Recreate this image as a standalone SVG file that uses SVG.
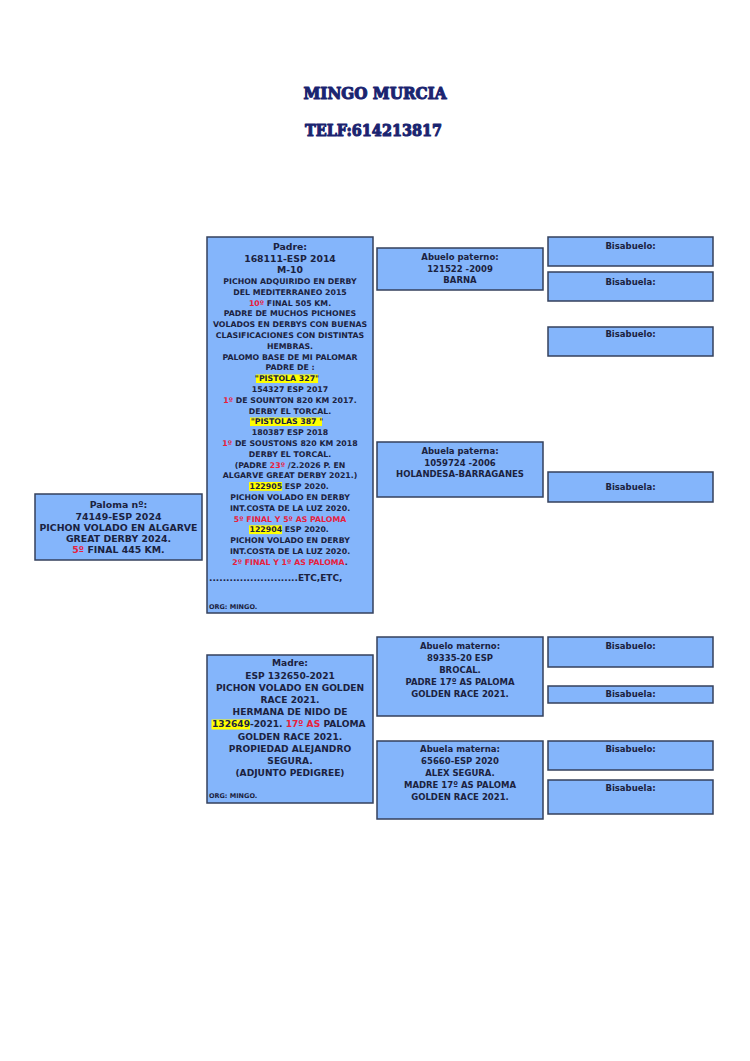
<svg xmlns="http://www.w3.org/2000/svg" width="750" height="1061" viewBox="0 0 750 1061">
<style>
.bg{fill:#ffffff}
.box{fill:#84b5fb;stroke:#34405c;stroke-width:1.5}
.t{font-family:"DejaVu Sans","Verdana",sans-serif;font-weight:bold;fill:#1b2240;text-anchor:middle}
.s{text-anchor:start}
.f78{font-size:7.8px}
.f85{font-size:8.5px}
.f91{font-size:9.1px}
.f93{font-size:9.3px}
.f94{font-size:9.4px}
.f65{font-size:6.5px}
.r{fill:#e8203c}
.hl{fill:#ffff00}
.title{font-family:"DejaVu Serif","Liberation Serif",serif;font-weight:bold;font-size:16.5px;fill:#1a2470;stroke:#1a2470;stroke-width:1.1;stroke-linejoin:round;text-anchor:middle}
</style>
<rect class="bg" x="0" y="0" width="750" height="1061"/>
<g id="title">
<text class="title" x="375" y="99" textLength="143" lengthAdjust="spacingAndGlyphs">MINGO MURCIA</text>
<text class="title" x="373.5" y="136" textLength="137" lengthAdjust="spacingAndGlyphs">TELF:614213817</text>
</g>
<g id="connectors"></g>
<g id="paloma">
<rect class="box" x="35" y="494" width="167" height="66"/>
<text class="t f94" x="118.5" y="508.4">Paloma nº:</text>
<text class="t f94" x="118.5" y="519.6">74149-ESP 2024</text>
<text class="t f94" x="118.5" y="530.9">PICHON VOLADO EN ALGARVE</text>
<text class="t f94" x="118.5" y="542.1">GREAT DERBY 2024.</text>
<text class="t f94" x="118.5" y="553.4"><tspan class="r">5º</tspan> FINAL 445 KM.</text>
</g>
<g id="padre">
<rect class="box" x="207" y="237" width="166" height="376"/>
<rect class="hl" x="256" y="374.5" width="62" height="8.5"/>
<rect class="hl" x="250" y="417.5" width="72" height="8.5"/>
<rect class="hl" x="249" y="482" width="33" height="8.8"/>
<rect class="hl" x="249" y="525.3" width="33" height="8.8"/>
<text class="t f93" x="290" y="249.5">Padre:</text>
<text class="t f93" x="290" y="261.5">168111-ESP 2014</text>
<text class="t f93" x="290" y="272.5">M-10</text>
<text class="t f78" x="290" y="284">PICHON ADQUIRIDO EN DERBY</text>
<text class="t f78" x="290" y="294.8">DEL MEDITERRANEO 2015</text>
<text class="t f78" x="290" y="305.6"><tspan class="r">10º</tspan> FINAL 505 KM.</text>
<text class="t f78" x="290" y="316.4">PADRE DE MUCHOS PICHONES</text>
<text class="t f78" x="290" y="327.2">VOLADOS EN DERBYS CON BUENAS</text>
<text class="t f78" x="290" y="338">CLASIFICACIONES CON DISTINTAS</text>
<text class="t f78" x="290" y="348.8">HEMBRAS.</text>
<text class="t f78" x="290" y="359.6">PALOMO BASE DE MI PALOMAR</text>
<text class="t f78" x="290" y="370.4">PADRE DE :</text>
<text class="t f78" x="287" y="381.2">"PISTOLA 327"</text>
<text class="t f78" x="290" y="392">154327 ESP 2017</text>
<text class="t f78" x="290" y="402.8"><tspan class="r">1º</tspan> DE SOUNTON 820 KM 2017.</text>
<text class="t f78" x="290" y="413.6">DERBY EL TORCAL.</text>
<text class="t f78" x="287" y="424.4">"PISTOLAS 387 "</text>
<text class="t f78" x="290" y="435.2">180387 ESP 2018</text>
<text class="t f78" x="290" y="446"><tspan class="r">1º</tspan> DE SOUSTONS 820 KM 2018</text>
<text class="t f78" x="290" y="456.8">DERBY EL TORCAL.</text>
<text class="t f78" x="290" y="467.6">(PADRE <tspan class="r">23º</tspan> /2.2026 P. EN</text>
<text class="t f78" x="290" y="478.4">ALGARVE GREAT DERBY 2021.)</text>
<text class="t f78 s" x="249.5" y="489.2">122905 ESP 2020.</text>
<text class="t f78" x="290" y="500">PICHON VOLADO EN DERBY</text>
<text class="t f78" x="290" y="510.8">INT.COSTA DE LA LUZ 2020.</text>
<text class="t f78 r" x="290" y="521.6">5º FINAL Y 5º AS PALOMA</text>
<text class="t f78 s" x="249.5" y="532.4">122904 ESP 2020.</text>
<text class="t f78" x="290" y="543.2">PICHON VOLADO EN DERBY</text>
<text class="t f78" x="290" y="554">INT.COSTA DE LA LUZ 2020.</text>
<text class="t f78" x="290" y="564.8"><tspan class="r">2º FINAL Y 1º AS PALOMA</tspan>.</text>
<text class="t s" style="font-size:9px" x="209" y="581">..........................ETC,ETC,</text>
<text class="t f65 s" x="209" y="609">ORG: MINGO.</text>
</g>
<g id="madre">
<rect class="box" x="207" y="655" width="166" height="148"/>
<rect class="hl" x="211.5" y="719.5" width="38.5" height="10"/>
<text class="t f91" x="290" y="666.3">Madre:</text>
<text class="t f91" x="290" y="678.5">ESP 132650-2021</text>
<text class="t f91" x="290" y="690.7">PICHON VOLADO EN GOLDEN</text>
<text class="t f91" x="290" y="702.9">RACE 2021.</text>
<text class="t f91" x="290" y="715.1">HERMANA DE NIDO DE</text>
<text class="t f91 s" x="212" y="727.3">132649-2021. <tspan class="r">17º AS</tspan> PALOMA</text>
<text class="t f91" x="290" y="739.5">GOLDEN RACE 2021.</text>
<text class="t f91" x="290" y="751.7">PROPIEDAD ALEJANDRO</text>
<text class="t f91" x="290" y="763.9">SEGURA.</text>
<text class="t f91" x="290" y="776.1">(ADJUNTO PEDIGREE)</text>
<text class="t f65 s" x="209" y="797.5">ORG: MINGO.</text>
</g>
<g id="abuelo-paterno">
<rect class="box" x="377" y="248" width="166" height="42"/>
<text class="t f85" x="460" y="260">Abuelo paterno:</text>
<text class="t f85" x="460" y="271.5">121522 -2009</text>
<text class="t f85" x="460" y="283">BARNA</text>
</g>
<g id="abuela-paterna">
<rect class="box" x="377" y="442" width="166" height="55"/>
<text class="t f85" x="460" y="454">Abuela paterna:</text>
<text class="t f85" x="460" y="465.5">1059724 -2006</text>
<text class="t f85" x="460" y="477">HOLANDESA-BARRAGANES</text>
</g>
<g id="abuelo-materno">
<rect class="box" x="377" y="637" width="166" height="79"/>
<text class="t f85" x="460" y="649">Abuelo materno:</text>
<text class="t f85" x="460" y="661">89335-20 ESP</text>
<text class="t f85" x="460" y="673">BROCAL.</text>
<text class="t f85" x="460" y="685">PADRE 17º AS PALOMA</text>
<text class="t f85" x="460" y="697">GOLDEN RACE 2021.</text>
</g>
<g id="abuela-materna">
<rect class="box" x="377" y="741" width="166" height="78"/>
<text class="t f85" x="460" y="752">Abuela materna:</text>
<text class="t f85" x="460" y="764">65660-ESP 2020</text>
<text class="t f85" x="460" y="776">ALEX SEGURA.</text>
<text class="t f85" x="460" y="788">MADRE 17º AS PALOMA</text>
<text class="t f85" x="460" y="800">GOLDEN RACE 2021.</text>
</g>
<g id="bisabuelo-1">
<rect class="box" x="548" y="237" width="165" height="29"/>
<text class="t f85" x="630.5" y="249">Bisabuelo:</text>
</g>
<g id="bisabuela-2">
<rect class="box" x="548" y="272" width="165" height="29"/>
<text class="t f85" x="630.5" y="285">Bisabuela:</text>
</g>
<g id="bisabuelo-3">
<rect class="box" x="548" y="327" width="165" height="29"/>
<text class="t f85" x="630.5" y="337">Bisabuelo:</text>
</g>
<g id="bisabuela-4">
<rect class="box" x="548" y="472" width="165" height="30"/>
<text class="t f85" x="630.5" y="490">Bisabuela:</text>
</g>
<g id="bisabuelo-5">
<rect class="box" x="548" y="637" width="165" height="30"/>
<text class="t f85" x="630.5" y="649">Bisabuelo:</text>
</g>
<g id="bisabuela-6">
<rect class="box" x="548" y="686" width="165" height="17"/>
<text class="t f85" x="630.5" y="697">Bisabuela:</text>
</g>
<g id="bisabuelo-7">
<rect class="box" x="548" y="741" width="165" height="29"/>
<text class="t f85" x="630.5" y="752">Bisabuelo:</text>
</g>
<g id="bisabuela-8">
<rect class="box" x="548" y="780" width="165" height="34"/>
<text class="t f85" x="630.5" y="791">Bisabuela:</text>
</g>
</svg>
